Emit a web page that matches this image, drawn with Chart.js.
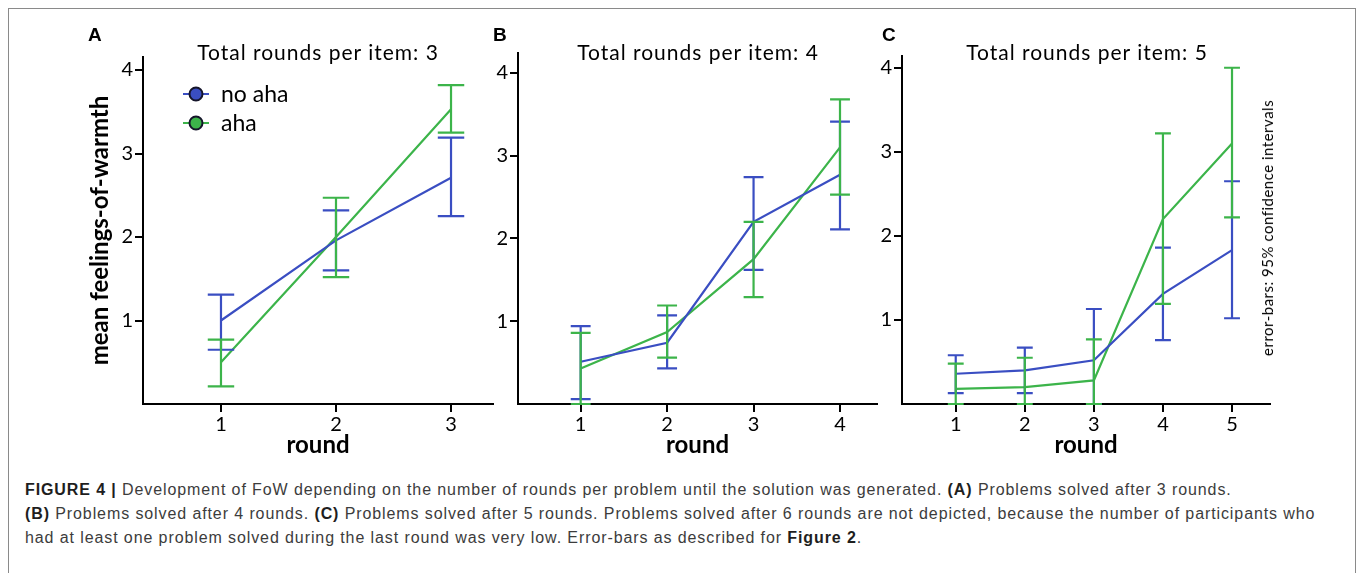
<!DOCTYPE html>
<html>
<head>
<meta charset="utf-8">
<script src="https://cdn.jsdelivr.net/npm/chart.js@4.4.1/dist/chart.umd.min.js"></script>
<style>
body { margin: 0; background: #fff; width: 1358px; height: 573px; overflow: hidden; position: relative; font-family: Lato, sans-serif; }
#frame { position: absolute; left: 8px; top: 8px; width: 1346px; height: 620px; border: 1px solid #8a8a8a; }
canvas { position: absolute; top: 0; }
.letter { position: absolute; top: 25px; font: bold 19px/1 "Liberation Sans", Arial, sans-serif; color: #000; }
.ttl { position: absolute; top: 41px; font-size: 21px; letter-spacing: 1px; line-height: 1; color: #000; transform: translateX(-50%); white-space: nowrap; }
#note { position: absolute; left: 1267px; top: 228px; font-size: 15px; letter-spacing: 0.5px; color: #000; transform: translate(-50%, -50%) rotate(-90deg); white-space: nowrap; }
#caption { position: absolute; left: 25px; top: 478px; font: 16px/24px "Liberation Sans", Arial, sans-serif; letter-spacing: 0.9px; color: #3c3c3c; white-space: nowrap; }
#caption b { color: #1e1e1e; }
</style>
</head>
<body>
<div id="frame"></div>

<canvas id="chartA" width="500" height="470" style="left:0px"></canvas>
<canvas id="chartB" width="420" height="470" style="left:470px"></canvas>
<canvas id="chartC" width="498" height="470" style="left:860px"></canvas>

<div class="letter" style="left:88px">A</div>
<div class="letter" style="left:493px">B</div>
<div class="letter" style="left:882px">C</div>
<div class="ttl" style="left:318px">Total rounds per item: 3</div>
<div class="ttl" style="left:698px">Total rounds per item: 4</div>
<div class="ttl" style="left:1087px">Total rounds per item: 5</div>
<div id="note">error-bars: 95% confidence intervals</div>

<div id="caption"><b>FIGURE 4 |</b> Development of FoW depending on the number of rounds per problem until the solution was generated. <b>(A)</b> Problems solved after 3 rounds.<br><b>(B)</b> Problems solved after 4 rounds. <b>(C)</b> Problems solved after 5 rounds. Problems solved after 6 rounds are not depicted, because the number of participants who<br>had at least one problem solved during the last round was very low. Error-bars as described for <b>Figure 2</b>.</div>

<script>
// data
var seriesNames = ['no aha', 'aha'];
var yTicks = [1, 2, 3, 4];

var roundsA = [1, 2, 3];
var noAhaA = [1.00, 1.96, 2.71];
var noAhaA_lo = [0.65, 1.60, 2.25];
var noAhaA_hi = [1.31, 2.32, 3.19];
var ahaA = [0.50, 2.00, 3.53];
var ahaA_lo = [0.21, 1.52, 3.25];
var ahaA_hi = [0.77, 2.47, 3.82];

var roundsB = [1, 2, 3, 4];
var noAhaB = [0.51, 0.74, 2.20, 2.77];
var noAhaB_lo = [0.06, 0.43, 1.62, 2.11];
var noAhaB_hi = [0.94, 1.07, 2.74, 3.41];
var ahaB = [0.43, 0.87, 1.75, 3.10];
var ahaB_lo = [0.00, 0.56, 1.29, 2.53];
var ahaB_hi = [0.86, 1.19, 2.20, 3.68];

var roundsC = [1, 2, 3, 4, 5];
var noAhaC = [0.36, 0.40, 0.52, 1.31, 1.83];
var noAhaC_lo = [0.13, 0.13, 0.00, 0.76, 1.02];
var noAhaC_hi = [0.58, 0.67, 1.13, 1.86, 2.65];
var ahaC = [0.18, 0.20, 0.28, 2.20, 3.10];
var ahaC_lo = [0.00, 0.00, 0.00, 1.19, 2.22];
var ahaC_hi = [0.48, 0.55, 0.77, 3.22, 4.00];

var BLUE = '#3a4ec2';
var GREEN = '#3cb44a';
var FONT = 'Lato';

// vertical error bars with caps
var errorBars = {
	id: 'errorBars',
	afterDatasetsDraw: function(chart) {
		var ctx = chart.ctx, x = chart.scales.x, y = chart.scales.y;
		var cap = (x.getPixelForValue(2) - x.getPixelForValue(1)) * 0.115;
		chart.data.datasets.forEach(function(ds) {
			ctx.save();
			ctx.strokeStyle = ds.borderColor;
			ctx.lineWidth = 2.2;
			ds.data.forEach(function(p, i) {
				var px = x.getPixelForValue(p.x);
				var lo = y.getPixelForValue(ds.lower[i]);
				var hi = y.getPixelForValue(ds.upper[i]);
				ctx.beginPath();
				ctx.moveTo(px, lo); ctx.lineTo(px, hi);
				ctx.moveTo(px - cap, lo); ctx.lineTo(px + cap, lo);
				ctx.moveTo(px - cap, hi); ctx.lineTo(px + cap, hi);
				ctx.stroke();
			});
			ctx.restore();
		});
	}
};

// legend: short line with a ringed dot
var lineLegend = {
	id: 'lineLegend',
	afterDraw: function(chart, args, opts) {
		if (!opts.show) return;
		var ctx = chart.ctx, a = chart.chartArea;
		chart.data.datasets.forEach(function(ds, i) {
			var cx = a.left + 53, cy = a.top + 37 + i * 29;
			ctx.save();
			ctx.strokeStyle = ds.borderColor;
			ctx.lineWidth = 2;
			ctx.beginPath(); ctx.moveTo(cx - 13, cy); ctx.lineTo(cx + 13, cy); ctx.stroke();
			ctx.beginPath(); ctx.arc(cx, cy, 6.5, 0, Math.PI * 2);
			ctx.fillStyle = ds.borderColor; ctx.fill();
			ctx.strokeStyle = '#15152a'; ctx.lineWidth = 2; ctx.stroke();
			ctx.fillStyle = '#000';
			ctx.font = '23px ' + FONT;
			ctx.textBaseline = 'middle';
			ctx.fillText(ds.label, cx + 25, cy + 1);
			ctx.restore();
		});
	}
};

function pts(xs, ys) {
	return xs.map(function(v, i) { return { x: v, y: ys[i] }; });
}

function panel(id, rounds, blue, blueLo, blueHi, green, greenLo, greenHi, o) {
	var tickFont = { family: FONT, size: 20 };
	var titleFont = { family: FONT, size: 24, weight: 'bold' };
	new Chart(document.getElementById(id), {
		type: 'line',
		data: {
			datasets: [{
				label: seriesNames[0],
				data: pts(rounds, blue),
				lower: blueLo, upper: blueHi,
				borderColor: BLUE, borderWidth: 2.2, pointRadius: 0, tension: 0, fill: false
			}, {
				label: seriesNames[1],
				data: pts(rounds, green),
				lower: greenLo, upper: greenHi,
				borderColor: GREEN, borderWidth: 2.2, pointRadius: 0, tension: 0, fill: false
			}]
		},
		options: {
			responsive: false,
			animation: false,
			layout: { padding: { top: o.top, right: o.right, left: 0, bottom: 0 } },
			plugins: {
				legend: { display: false },
				tooltip: { enabled: false },
				lineLegend: { show: !!o.legend }
			},
			scales: {
				x: {
					type: 'linear', min: o.xMin, max: o.xMax,
					afterBuildTicks: function(s) { s.ticks = rounds.map(function(v) { return { value: v }; }); },
					afterFit: function(s) { s.height = 66; },
					grid: { drawOnChartArea: false, drawTicks: true, tickLength: 8, color: '#000', lineWidth: 2 },
					border: { color: '#000', width: 2 },
					ticks: { color: '#000', font: tickFont, padding: 1, maxRotation: 0, autoSkip: false },
					title: { display: true, text: 'round', color: '#000', font: titleFont, padding: { top: 0, bottom: 10 } }
				},
				y: {
					min: 0, max: o.yMax,
					afterBuildTicks: function(s) { s.ticks = yTicks.map(function(v) { return { value: v }; }); },
					afterFit: function(s) { s.width = o.yWidth; },
					grid: { drawOnChartArea: false, drawTicks: true, tickLength: 8, color: '#000', lineWidth: 2 },
					border: { color: '#000', width: 2 },
					ticks: { color: '#000', font: tickFont, padding: 2 },
					title: { display: !!o.yTitle, text: o.yTitle || '', color: '#000', font: titleFont, padding: { top: 86, bottom: 0 } }
				}
			}
		},
		plugins: [errorBars, lineLegend]
	});
}

panel('chartA', roundsA, noAhaA, noAhaA_lo, noAhaA_hi, ahaA, ahaA_lo, ahaA_hi,
	{ top: 57, right: 7, yWidth: 143, yMax: 4.156, xMin: 0.322, xMax: 3.365, yTitle: 'mean feelings-of-warmth', legend: true });
panel('chartB', roundsB, noAhaB, noAhaB_lo, noAhaB_hi, ahaB, ahaB_lo, ahaB_hi,
	{ top: 53, right: 13, yWidth: 48, yMax: 4.24, xMin: 0.275, xMax: 4.428 });
panel('chartC', roundsC, noAhaC, noAhaC_lo, noAhaC_hi, ahaC, ahaC_lo, ahaC_hi,
	{ top: 56, right: 88, yWidth: 42, yMax: 4.14, xMin: 0.222, xMax: 5.55 });
</script>
</body>
</html>
